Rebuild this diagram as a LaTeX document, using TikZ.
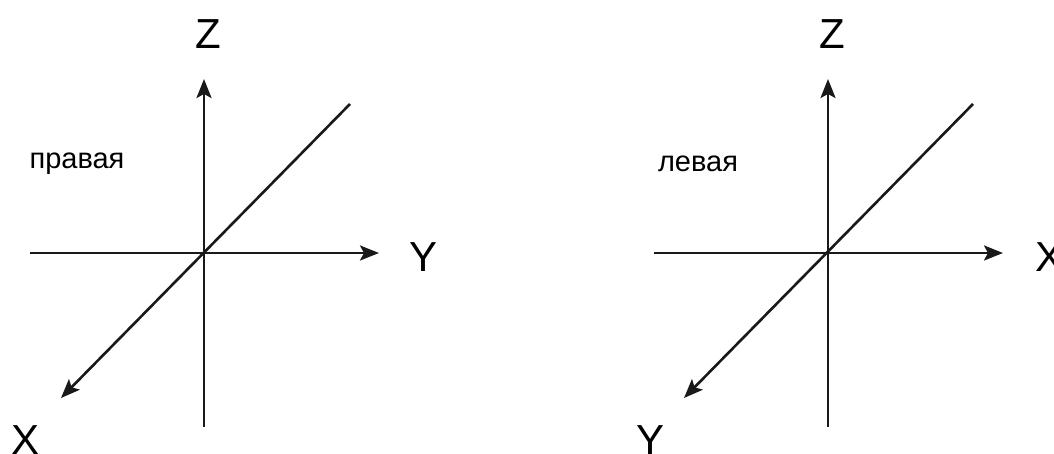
\documentclass[tikz,border=0pt]{standalone}
\usepackage{fontspec}
\setmainfont{Liberation Sans}
\usetikzlibrary{arrows.meta}
\begin{document}
\begin{tikzpicture}[x=1pt,y=-1pt,
  axis/.style={line width=2.6pt,black!90},
  arr/.style={axis,-{Stealth[length=19pt,width=15pt,inset=4pt]}},
  axlabel/.style={font=\fontsize{42}{42}\selectfont,inner sep=0pt,anchor=center},
  caption/.style={font=\fontsize{29}{29}\selectfont,inner sep=0pt,anchor=center}]
\useasboundingbox (0,0) rectangle (1054,454);
% left (right-handed)
\coordinate (O1) at (204,253);
\coordinate (Z1b) at (204,427);
\coordinate (Z1t) at (204,79);
\coordinate (Y1l) at (30,253);
\coordinate (Y1r) at (379,253);
\coordinate (D1t) at (350,104);
\coordinate (D1b) at (61,398);
\draw[arr] (Z1b) -- (Z1t);
\draw[arr] (Y1l) -- (Y1r);
\draw[arr] (D1t) -- (D1b);
\node[axlabel] (lz1) at (208,34) {Z};
\node[axlabel] (ly1) at (424,257) {Y};
\node[axlabel] (lx1) at (26,440) {X};
\node[caption] (c1) at (77,164) {правая};
% right (left-handed)
\coordinate (O2) at (828,253);
\coordinate (Z2b) at (828,427);
\coordinate (Z2t) at (828,79);
\coordinate (X2l) at (654,253);
\coordinate (X2r) at (1003,253);
\coordinate (D2t) at (973,104);
\coordinate (D2b) at (684,398);
\draw[arr] (Z2b) -- (Z2t);
\draw[arr] (X2l) -- (X2r);
\draw[arr] (D2t) -- (D2b);
\node[axlabel] (lz2) at (832,34) {Z};
\node[axlabel] (lx2) at (1049,257) {X};
\node[axlabel] (ly2) at (650,440) {Y};
\node[caption] (c2) at (698,164) {левая};
\end{tikzpicture}
\end{document}
